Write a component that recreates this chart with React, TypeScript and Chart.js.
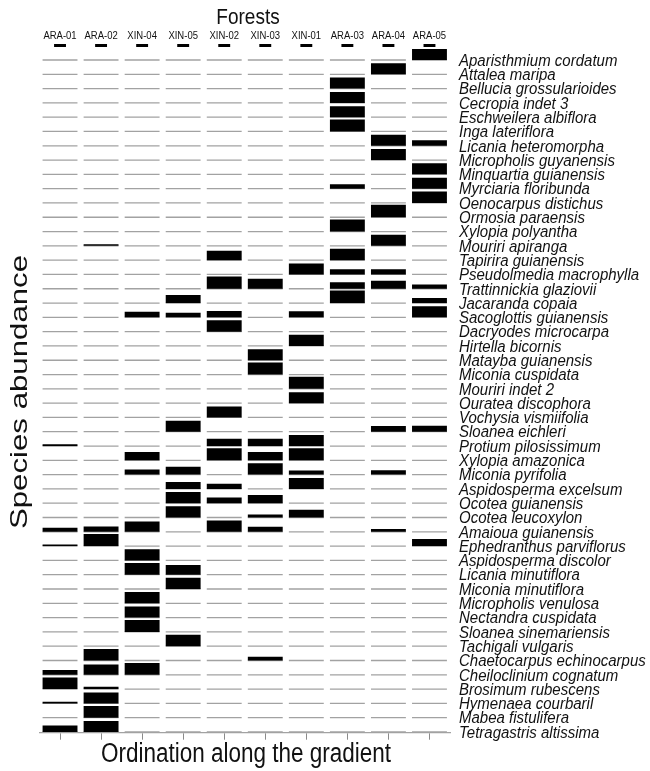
import React, { useEffect, useRef } from 'react';
import { Chart, registerables } from 'chart.js';

Chart.register(...registerables);

// ---------- data ----------
const forests = ['ARA-01', 'ARA-02', 'XIN-04', 'XIN-05', 'XIN-02', 'XIN-03', 'XIN-01', 'ARA-03', 'ARA-04', 'ARA-05'];

const species = [
  'Aparisthmium cordatum', 'Attalea maripa', 'Bellucia grossularioides', 'Cecropia indet 3',
  'Eschweilera albiflora', 'Inga lateriflora', 'Licania heteromorpha', 'Micropholis guyanensis',
  'Minquartia guianensis', 'Myrciaria floribunda', 'Oenocarpus distichus', 'Ormosia paraensis',
  'Xylopia polyantha', 'Mouriri apiranga', 'Tapirira guianensis', 'Pseudolmedia macrophylla',
  'Trattinnickia glaziovii', 'Jacaranda copaia', 'Sacoglottis guianensis', 'Dacryodes microcarpa',
  'Hirtella bicornis', 'Matayba guianensis', 'Miconia cuspidata', 'Mouriri indet 2',
  'Ouratea discophora', 'Vochysia vismiifolia', 'Sloanea eichleri', 'Protium pilosissimum',
  'Xylopia amazonica', 'Miconia pyrifolia', 'Aspidosperma excelsum', 'Ocotea guianensis',
  'Ocotea leucoxylon', 'Amaioua guianensis', 'Ephedranthus parviflorus', 'Aspidosperma discolor',
  'Licania minutiflora', 'Miconia minutiflora', 'Micropholis venulosa', 'Nectandra cuspidata',
  'Sloanea sinemariensis', 'Tachigali vulgaris', 'Chaetocarpus echinocarpus', 'Cheiloclinium cognatum',
  'Brosimum rubescens', 'Hymenaea courbaril', 'Mabea fistulifera', 'Tetragastris altissima',
];

// abundance of each species (in the order above) per forest
const ARA_01 = [
  0, 0, 0, 0, 0, 0, 0, 0,
  0, 0, 0, 0, 0, 0, 0, 0,
  0, 0, 0, 0, 0, 0, 0, 0,
  0, 0, 0, 1.7, 0, 0, 0, 0,
  0, 4, 1.7, 0, 0, 0, 0, 0,
  0, 0, 0, 4.8, 11.5, 1.7, 0, 6.5,
];
const ARA_02 = [
  0, 0, 0, 0, 0, 0, 0, 0,
  0, 0, 0, 0, 0, 1.5, 0, 0,
  0, 0, 0, 0, 0, 0, 0, 0,
  0, 0, 0, 0, 0, 0, 0, 0,
  0, 5.2, 12, 0, 0, 0, 0, 0,
  0, 0, 11.5, 10.2, 2.3, 11, 11.7, 11,
];
const XIN_04 = [
  0, 0, 0, 0, 0, 0, 0, 0,
  0, 0, 0, 0, 0, 0, 0, 0,
  0, 0, 5.5, 0, 0, 0, 0, 0,
  0, 0, 0, 0, 8.3, 5, 0, 0,
  0, 10.3, 0, 11.2, 11.7, 0, 11.3, 11,
  12, 0, 0, 11.7, 0, 0, 0, 0,
];
const XIN_05 = [
  0, 0, 0, 0, 0, 0, 0, 0,
  0, 0, 0, 0, 0, 0, 0, 0,
  0, 8, 4.5, 0, 0, 0, 0, 0,
  0, 0, 11, 0, 0, 8, 6.8, 11.2,
  11.2, 0, 0, 0, 9.6, 11.2, 0, 0,
  0, 11.5, 0, 0, 0, 0, 0, 0,
];
const XIN_02 = [
  0, 0, 0, 0, 0, 0, 0, 0,
  0, 0, 0, 0, 0, 0, 9.3, 0,
  12.3, 0, 6.3, 11.3, 0, 0, 0, 0,
  0, 11, 0, 7.3, 12, 0, 5.2, 5.7,
  0, 11.3, 0, 0, 0, 0, 0, 0,
  0, 0, 0, 0, 0, 0, 0, 0,
];
const XIN_03 = [
  0, 0, 0, 0, 0, 0, 0, 0,
  0, 0, 0, 0, 0, 0, 0, 0,
  10, 0, 0, 0, 0, 11, 12, 0,
  0, 0, 0, 7.3, 8.3, 11.3, 0, 8.3,
  3, 5, 0, 0, 0, 0, 0, 0,
  0, 0, 3.8, 0, 0, 0, 0, 0,
];
const XIN_01 = [
  0, 0, 0, 0, 0, 0, 0, 0,
  0, 0, 0, 0, 0, 0, 0, 11,
  0, 0, 6, 0, 11.3, 0, 0, 12,
  11, 0, 0, 11, 12, 4.2, 11, 0,
  7.7, 0, 0, 0, 0, 0, 0, 0,
  0, 0, 0, 0, 0, 0, 0, 0,
];
const ARA_03 = [
  0, 0, 11, 11, 11, 12, 0, 0,
  0, 4.3, 0, 0, 12, 0, 11.3, 5.2,
  6.5, 12.5, 0, 0, 0, 0, 0, 0,
  0, 0, 0, 0, 0, 0, 0, 0,
  0, 0, 0, 0, 0, 0, 0, 0,
  0, 0, 0, 0, 0, 0, 0, 0,
];
const ARA_04 = [
  0, 11, 0, 0, 0, 0, 11, 11,
  0, 0, 0, 12.5, 0, 11, 0, 5.3,
  8, 0, 0, 0, 0, 0, 0, 0,
  0, 0, 5.7, 0, 0, 4.3, 0, 0,
  0, 2.7, 0, 0, 0, 0, 0, 0,
  0, 0, 0, 0, 0, 0, 0, 0,
];
const ARA_05 = [
  11, 0, 0, 0, 0, 0, 5.5, 0,
  11, 11, 11.5, 0, 0, 0, 0, 0,
  4.3, 5, 11, 0, 0, 0, 0, 0,
  0, 0, 6, 0, 0, 0, 0, 0,
  0, 0, 7, 0, 0, 0, 0, 0,
  0, 0, 0, 0, 0, 0, 0, 0,
];

// small reference mark drawn above each forest column
const referenceMark = [3, 3, 3, 3, 3, 3, 3, 3, 3, 3];

const abundanceByForest = [ARA_01, ARA_02, XIN_04, XIN_05, XIN_02, XIN_03, XIN_01, ARA_03, ARA_04, ARA_05];

const titleTop = 'Forests';
const titleX = 'Ordination along the gradient';
const titleY = 'Species abundance';

// ---------- layout / style constants ----------
const FONT = '"Liberation Sans", Arial, Helvetica, sans-serif';
const ROW_PER_UNIT = 1 / 14.3; // bar height (in rows) per abundance unit
const BASE_HALF = 0.045; // half thickness of grey baselines (rows)
const HEADER_ROW_OFFSET = 0.9; // mark row above first species
const Y_MIN = -0.05;
const Y_MAX = 48.3;
const BAR_PCT = 0.85;
const TEXT = '#111';

const rowValue = (i: number) => species.length - 1 - i;

// text in the reference is elongated along the vertical direction
function drawStretched(
  ctx: CanvasRenderingContext2D, text: string, x: number, y: number,
  font: string, align: CanvasTextAlign, stretch: number, rotate = false,
) {
  ctx.save();
  ctx.translate(x, y);
  if (rotate) {
    ctx.rotate(-Math.PI / 2);
    ctx.scale(stretch, 1);
  } else {
    ctx.scale(1, stretch);
  }
  ctx.font = font;
  ctx.textAlign = align;
  ctx.textBaseline = 'middle';
  ctx.fillStyle = TEXT;
  ctx.fillText(text, 0, 0);
  ctx.restore();
}

const textPlugin = {
  id: 'stretchedText',
  afterDraw(chart: any) {
    const { ctx, chartArea, scales } = chart;
    const xs = scales.x;
    const yr = scales.yr;
    drawStretched(ctx, titleTop, 248, 18, `19px ${FONT}`, 'center', 1.2);
    forests.forEach((f, i) => {
      drawStretched(ctx, f, xs.getPixelForValue(i), chartArea.top - 5.5, `9.5px ${FONT}`, 'center', 1.2);
    });
    species.forEach((s, i) => {
      drawStretched(ctx, s, chartArea.right + 9, yr.getPixelForValue(rowValue(i)) + 1,
        `italic 15px ${FONT}`, 'left', 1.14);
    });
    drawStretched(ctx, titleX, 246, 755, `22.5px ${FONT}`, 'center', 1.2);
    drawStretched(ctx, titleY, 20, 392, `24px ${FONT}`, 'center', 1.3, true);
  },
};

export default function App() {
  const canvasRef = useRef<HTMLCanvasElement | null>(null);

  useEffect(() => {
    if (!canvasRef.current) return;
    Chart.defaults.font.family = FONT;
    Chart.defaults.color = TEXT;

    const datasets: any[] = [];
    species.forEach((name, i) => {
      const v = rowValue(i);
      datasets.push({
        label: name + ' baseline',
        data: forests.map(() => [v - BASE_HALF, v + BASE_HALF]),
        backgroundColor: '#a2a2a2',
        grouped: false,
        order: 3,
        barPercentage: BAR_PCT,
        categoryPercentage: 1,
        yAxisID: 'y',
        xAxisID: 'x',
      });
      datasets.push({
        label: name,
        data: forests.map((_, f) => {
          const a = abundanceByForest[f][i];
          return a > 0 ? [v, v + a * ROW_PER_UNIT] : null;
        }),
        backgroundColor: '#000',
        grouped: false,
        order: 1,
        barPercentage: BAR_PCT,
        categoryPercentage: 1,
        yAxisID: 'y',
        xAxisID: 'x',
      });
    });
    const headerV = rowValue(0) + HEADER_ROW_OFFSET;
    datasets.push({
      label: 'reference',
      data: forests.map((_, f) => [headerV, headerV + referenceMark[f] * ROW_PER_UNIT]),
      backgroundColor: '#000',
      grouped: false,
      order: 1,
      barPercentage: 0.29,
      categoryPercentage: 1,
      yAxisID: 'y',
      xAxisID: 'x',
    });

    const chart = new Chart(canvasRef.current, {
      type: 'bar',
      data: { labels: forests, datasets },
      options: {
        responsive: false,
        animation: false,
        devicePixelRatio: 1,
        layout: { padding: 0 },
        plugins: {
          legend: { display: false },
          tooltip: { enabled: false },
          title: { display: false },
        },
        scales: {
          x: {
            type: 'category',
            position: 'bottom',
            offset: true,
            grid: {
              display: true,
              drawOnChartArea: false,
              drawTicks: true,
              tickLength: 7,
              color: '#8a8a8a',
              offset: false,
            },
            border: { display: true, color: '#a2a2a2', width: 1.3 },
            ticks: { callback: () => '', padding: 0 },
            afterFit: (s: any) => { s.height = 38.3; },
          },
          xTop: {
            type: 'category',
            position: 'top',
            offset: true,
            grid: { display: false, drawTicks: false },
            border: { display: false },
            ticks: { display: false },
            afterFit: (s: any) => { s.height = 41.4; },
          },
          y: {
            type: 'linear',
            position: 'left',
            min: Y_MIN,
            max: Y_MAX,
            ticks: { display: false },
            grid: { display: false, drawTicks: false },
            border: { display: false },
            afterFit: (s: any) => { s.width = 39.5; },
          },
          yr: {
            type: 'linear',
            position: 'right',
            min: Y_MIN,
            max: Y_MAX,
            grid: { display: false, drawTicks: false },
            border: { display: false },
            ticks: { display: false },
            afterBuildTicks: (s: any) => {
              s.ticks = species.map((_, i) => ({ value: rowValue(i) }));
            },
            afterFit: (s: any) => { s.width = 200; },
          },
        },
      } as any,
      plugins: [textPlugin],
    });
    return () => chart.destroy();
  }, []);

  return (
    <div style={{ position: 'fixed', left: 0, top: 0, width: 650, height: 771, background: '#fff' }}>
      <canvas ref={canvasRef} width={650} height={771} style={{ display: 'block' }} />
    </div>
  );
}
